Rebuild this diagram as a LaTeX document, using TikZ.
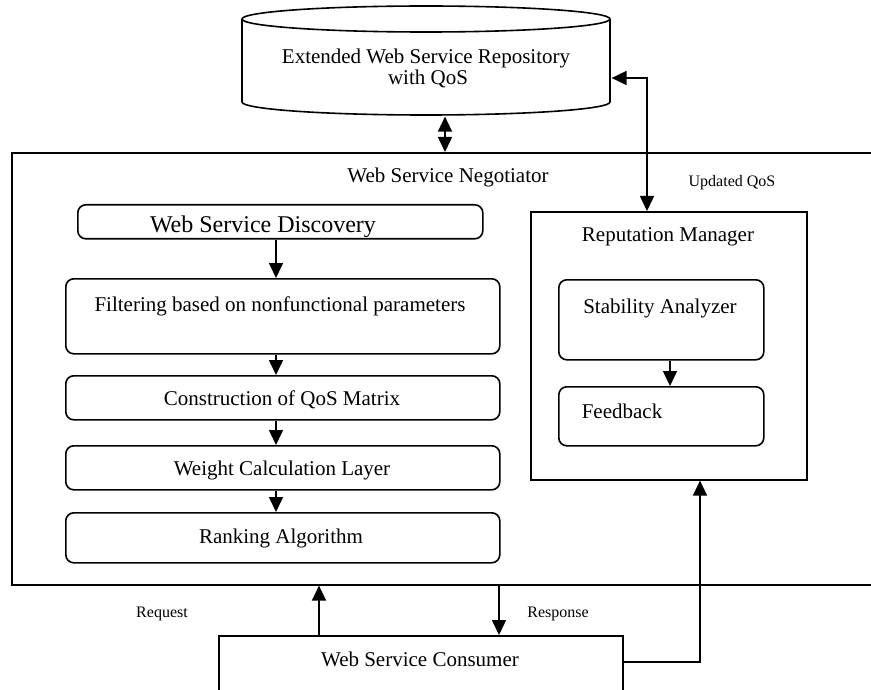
\documentclass[tikz,border=0pt]{standalone}
\usepackage{fontspec}
\setmainfont{Liberation Serif}
\usetikzlibrary{arrows.meta}

\begin{document}
\begin{tikzpicture}[x=1pt, y=-1pt, line width=1.6pt,
  frame/.style={draw, rectangle, inner sep=0pt, anchor=north west, line width=1.6pt},
  rframe/.style={frame, rounded corners=8pt},
  txt/.style={inner sep=0pt, anchor=base, font=\fontsize{21}{24}\selectfont},
  small/.style={inner sep=0pt, anchor=base, font=\fontsize{16}{18}\selectfont},
  tip/.tip={Triangle[length=15pt, width=14pt]},
  flow/.style={-tip, line width=1.6pt},
]
\useasboundingbox (0,0) rectangle (871,690);
\clip (0,0) rectangle (871,690);

% ---- repository (cylinder) ----
\node[inner sep=0pt, minimum width=368pt, minimum height=109pt, anchor=north west] (repo) at (242,6) {};
\draw (242,19) -- (242,102) arc[start angle=180, end angle=0, x radius=184, y radius=13] -- (610,19);
\draw (426,19) ellipse[x radius=184, y radius=13];
\node[txt] (repoA) at (426,64) {Extended Web Service Repository};
\node[txt] (repoB) at (428,85) {with QoS};

% ---- negotiator frame (runs off to the right) ----
\node[frame, minimum width=900pt, minimum height=432pt] (neg) at (11,152) {};
\node[txt] (negT) at (448,183) {Web Service Negotiator};

% ---- selection pipeline ----
\node[rframe, minimum width=405pt, minimum height=34pt] (disc) at (77,204) {};
\begin{scope}
  \clip (78,205) rectangle (481,237);
  \node[txt, font=\fontsize{24}{28}\selectfont] (discT) at (263,233) {Web Service Discovery};
\end{scope}
\node[rframe, minimum width=434pt, minimum height=75pt] (filt) at (65,278) {};
\node[txt] (filtT) at (280,311) {Filtering based on nonfunctional parameters};
\node[rframe, minimum width=434pt, minimum height=44pt] (qos) at (65,375) {};
\node[txt] (qosT) at (282,405) {Construction of QoS Matrix};
\node[rframe, minimum width=434pt, minimum height=44pt] (wgt) at (65,445) {};
\node[txt] (wgtT) at (282,475) {Weight Calculation Layer};
\node[rframe, minimum width=434pt, minimum height=50pt] (rank) at (65,512) {};
\node[txt] (rankT) at (281,543) {Ranking Algorithm};

\coordinate (col) at (276,0);
\draw[flow] (col |- disc.south) -- (col |- filt.north);
\draw[flow] (col |- filt.south) -- (col |- qos.north);
\draw[flow] (col |- qos.south) -- (col |- wgt.north);
\draw[flow] (col |- wgt.south) -- (col |- rank.north);

% ---- reputation manager ----
\node[frame, minimum width=276pt, minimum height=268pt] (rep) at (530,211) {};
\node[txt] (repT) at (668,242) {Reputation Manager};
\node[rframe, minimum width=205pt, minimum height=80pt] (stab) at (558,279) {};
\node[txt] (stabT) at (660,313) {Stability Analyzer};
\node[rframe, minimum width=205pt, minimum height=59pt] (feed) at (558,386) {};
\node[txt, anchor=base west] (feedT) at (581,418) {Feedback};
\coordinate (rc) at (670,0);
\draw[flow] (rc |- stab.south) -- (rc |- feed.north);

% ---- consumer (runs off the bottom) ----
\node[frame, minimum width=404pt, minimum height=80pt] (cons) at (218,635) {};
\node[txt] (consT) at (420,666) {Web Service Consumer};

% ---- connectors ----
\coordinate (dv) at (445,0);
\draw[tip-tip] (dv |- repo.south) -- (dv |- neg.north);

\coordinate (uq) at (647,78);
\draw[tip-tip] (uq -| repo.east) -- (uq) -- (uq |- rep.north);
\node[small] (uqT) at (732,186) {Updated QoS};

\coordinate (rq) at (319,0);
\draw[flow] (rq |- cons.north) -- (rq |- neg.south);
\node[small] (rqT) at (162,617) {Request};

\coordinate (rs) at (499,0);
\draw[flow] (rs |- neg.south) -- (rs |- cons.north);
\node[small] (rsT) at (558,617) {Response};

\coordinate (fb) at (700,662);
\draw[flow] (fb -| cons.east) -- (fb) -- (fb |- rep.south);
\end{tikzpicture}
\end{document}
